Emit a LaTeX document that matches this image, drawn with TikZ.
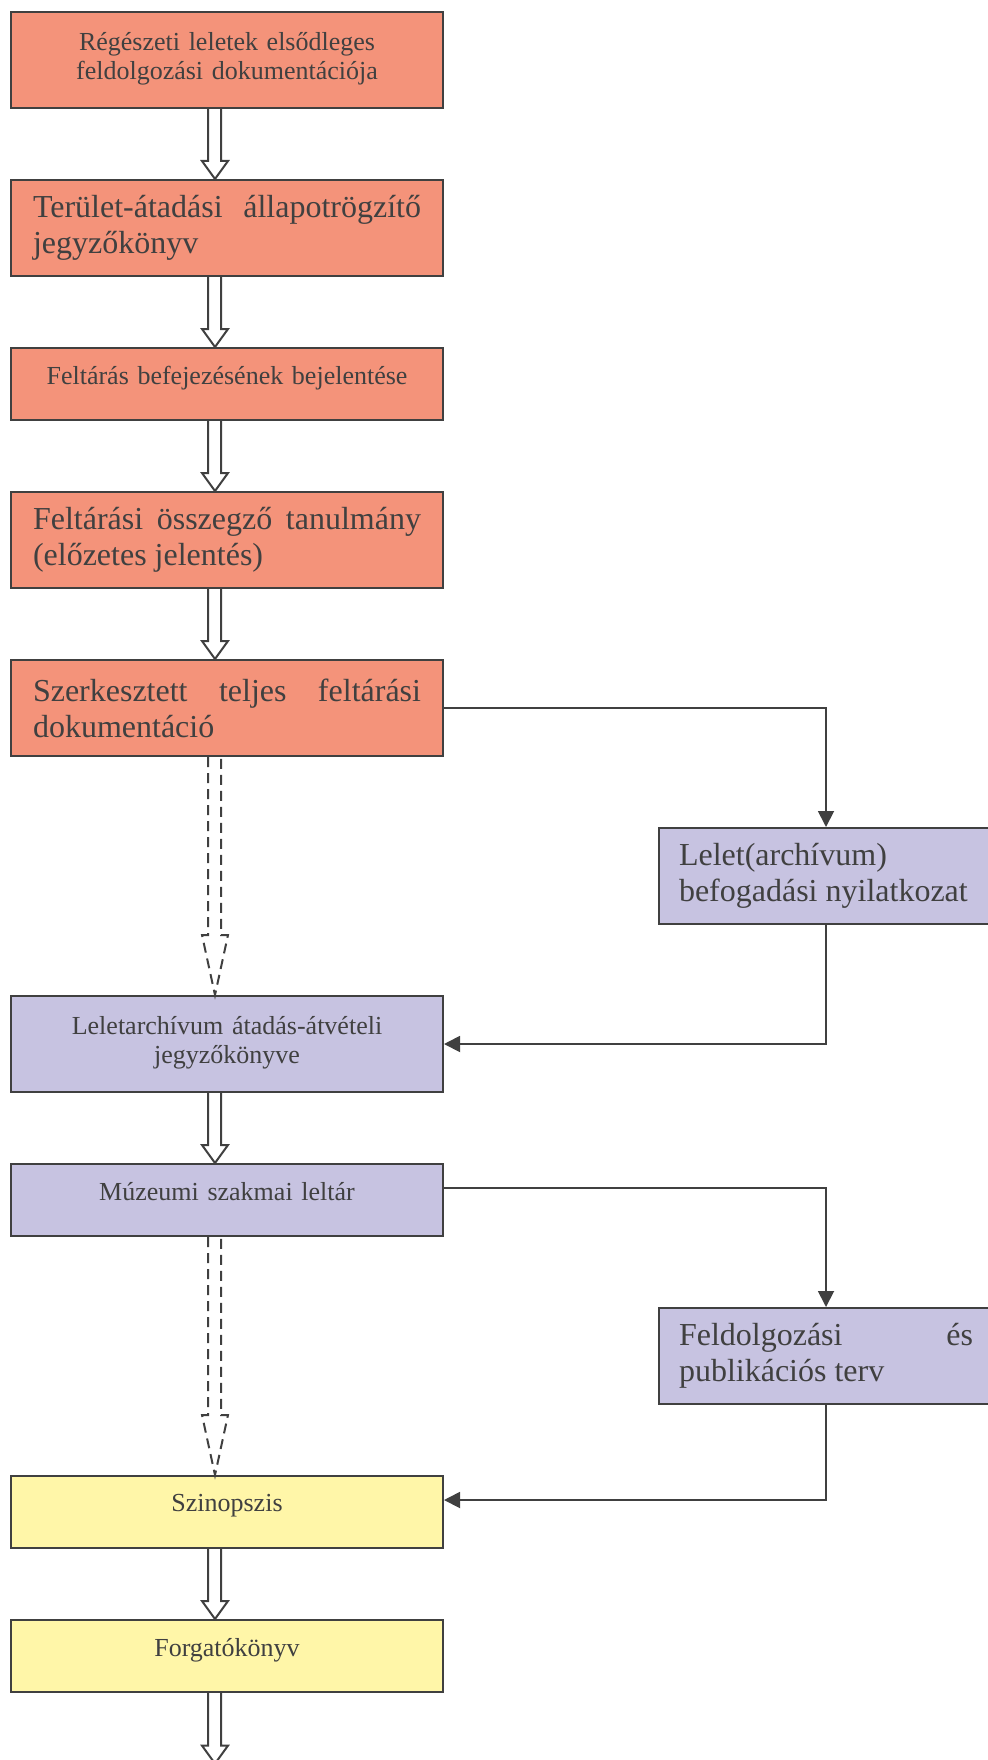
\documentclass[tikz,border=0pt]{standalone}
\usepackage{fontspec}
\setmainfont{Liberation Serif}
\usetikzlibrary{arrows.meta}
\definecolor{salmon}{RGB}{244,147,122}
\definecolor{lilac}{RGB}{199,195,225}
\definecolor{lemon}{RGB}{255,246,168}
\definecolor{inkgray}{RGB}{64,64,64}
\begin{document}
\begin{tikzpicture}[x=0.5pt,y=-0.5pt,
                    stage/.style={
                        draw=inkgray, line width=1pt,
                        text=inkgray,
                        minimum width=216pt,
                        inner xsep=11pt,
                        text width=194pt},
                    smallstage/.style={stage,
                        align=center,
                        font=\fontsize{13}{14.5}\selectfont,
                        text depth=9pt},
                    largestage/.style={stage,
                        align=justify,
                        font=\fontsize{16}{18}\selectfont},
                    sidestage/.style={largestage,
                        minimum width=167pt,
                        inner xsep=10pt,
                        text width=147pt},
                    hollow/.style={draw=inkgray, line width=1pt},
                    hollowdash/.style={hollow, dash pattern=on 5pt off 3pt},
                    conn/.style={draw=inkgray, line width=0.9pt,
                        -{Triangle[length=8pt,width=8pt]}}]
                        \useasboundingbox (0,0) rectangle (987,1760);
                        \node [smallstage, fill=salmon, minimum height=48pt, text depth=19pt] (v0) at (227,60) {Régészeti leletek elsődleges\\feldolgozási dokumentációja};
                        \node [largestage, fill=salmon, minimum height=48pt] (v1) at (227,228) {Terület-átadási \hfill állapotrögzítő\\jegyzőkönyv};
                        \node [smallstage, fill=salmon, minimum height=36pt] (v2) at (227,384) {Feltárás befejezésének bejelentése};
                        \node [largestage, fill=salmon, minimum height=48pt] (v3) at (227,540) {Feltárási \hfill összegző \hfill tanulmány\\(előzetes jelentés)};
                        \node [largestage, fill=salmon, minimum height=48pt] (v4) at (227,708) {Szerkesztett \hfill teljes \hfill feltárási\\dokumentáció};
                        \node [sidestage, fill=lilac, minimum height=48pt] (v5) at (826,876) {Lelet(archívum)\\befogadási nyilatkozat};
                        \node [smallstage, fill=lilac, minimum height=48pt, text depth=19pt] (v6) at (227,1044) {Leletarchívum átadás-átvételi\\jegyzőkönyve};
                        \node [smallstage, fill=lilac, minimum height=36pt] (v7) at (227,1200) {Múzeumi szakmai leltár};
                        \node [sidestage, fill=lilac, minimum height=48pt] (v8) at (826,1356) {Feldolgozási \hfill és\\publikációs terv};
                        \node [smallstage, fill=lemon, minimum height=36pt] (v9) at (227,1512) {Szinopszis};
                        \node [smallstage, fill=lemon, minimum height=36pt] (v10) at (227,1656) {Forgatókönyv};
                        \node [inner sep=0pt, minimum size=0pt] (ve) at (227,1764) {};
                        \foreach \a/\b in {v0/v1, v1/v2, v2/v3, v3/v4, v6/v7, v9/v10, v10/ve}
                            \draw [hollow] ([xshift=-9.5pt]\a.south) -- ([xshift=-9.5pt,yshift=9pt]\b.north)
                                -- ([xshift=-12.5pt,yshift=9pt]\b.north) -- ([xshift=-6pt]\b.north)
                                -- ([xshift=0.5pt,yshift=9pt]\b.north) -- ([xshift=-3pt,yshift=9pt]\b.north)
                                -- ([xshift=-3pt]\a.south);
                        \foreach \a/\b in {v4/v6, v7/v9}
                            \draw [hollowdash] ([xshift=-9.5pt]\a.south) -- ([xshift=-9.5pt,yshift=30pt]\b.north)
                                -- ([xshift=-12.5pt,yshift=30pt]\b.north) -- ([xshift=-6pt]\b.north)
                                -- ([xshift=0.5pt,yshift=30pt]\b.north) -- ([xshift=-3pt,yshift=30pt]\b.north)
                                -- ([xshift=-3pt]\a.south);
                        \draw [conn] (v4.east) -| (v5.north);
                        \draw [conn] (v5.south) |- (v6.east);
                        \draw [conn] ([yshift=6pt]v7.east) -| (v8.north);
                        \draw [conn] (v8.south) |- ([yshift=6pt]v9.east);
                \end{tikzpicture}
\end{document}
